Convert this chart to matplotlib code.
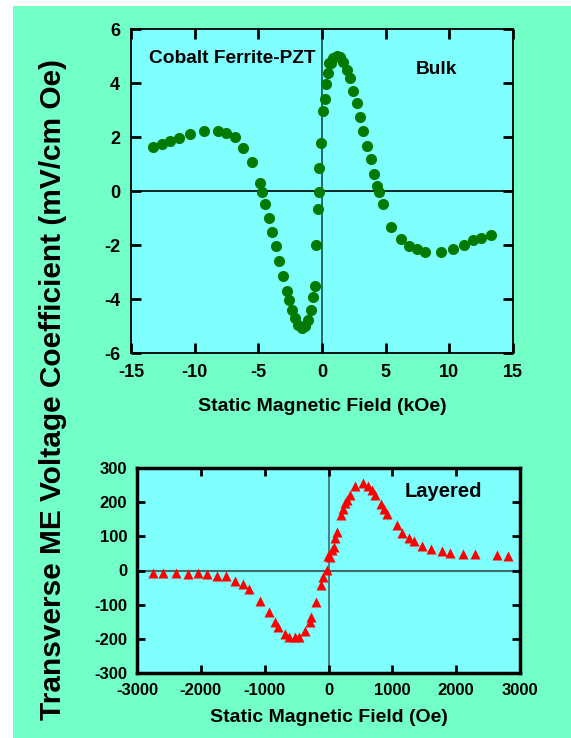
import numpy as np
import matplotlib
matplotlib.use('Agg')
import matplotlib.pyplot as plt
from matplotlib.patches import Rectangle

plt.rcParams['font.family'] = ['Liberation Sans', 'DejaVu Sans']
plt.rcParams['font.weight'] = 'bold'
plt.rcParams['axes.unicode_minus'] = False

# bulk sample, field in kOe, coefficient in mV/cm Oe
bulk_h = [-13.3, -12.57, -11.9, -11.2, -10.4, -9.3, -8.2, -7.54, -6.86, -6.23,
          -5.52, -4.85, -4.69, -4.45, -4.14, -3.9, -3.59, -3.35, -3.04, -2.77,
          -2.59, -2.38, -2.12, -1.86, -1.6, -1.34, -1.08, -0.89, -0.73, -0.55,
          -0.47, -0.29, -0.26, -0.21, -0.05, 0.1, 0.24, 0.31, 0.45, 0.57,
          0.71, 0.89, 1.15, 1.41, 1.68, 1.94, 2.2, 2.46, 2.72, 2.99,
          3.25, 3.51, 3.83, 4.08, 4.34, 4.48, 4.77, 5.45, 6.18, 6.81,
          7.49, 8.12, 9.32, 10.3, 11.15, 11.83, 12.5, 13.25]
bulk_v = [1.63, 1.73, 1.86, 1.97, 2.11, 2.22, 2.22, 2.14, 2.0, 1.58,
          1.06, 0.31, -0.05, -0.49, -1.01, -1.52, -2.05, -2.6, -3.15, -3.69,
          -4.04, -4.41, -4.72, -4.96, -5.09, -5.0, -4.78, -4.41, -3.94, -3.5,
          -2.0, -0.67, -0.05, 0.86, 1.78, 2.97, 3.41, 3.96, 4.36, 4.73,
          4.73, 4.91, 5.0, 4.95, 4.79, 4.5, 4.17, 3.72, 3.25, 2.73,
          2.22, 1.68, 1.17, 0.64, 0.19, -0.05, -0.49, -1.32, -1.78, -2.04,
          -2.16, -2.26, -2.25, -2.16, -2.0, -1.81, -1.73, -1.63]

# layered sample, field in Oe
lay_h = [-2755, -2599, -2390, -2208, -2052, -1906, -1750, -1604, -1469, -1333,
         -1240, -1073, -927, -838, -786, -688, -614, -531, -464, -375,
         -297, -271, -203, -125, -83, -31, -11, 31, 57, 83,
         109, 135, 203, 229, 266, 292, 333, 422, 542, 620,
         682, 734, 828, 875, 917, 1073, 1151, 1255, 1333, 1464,
         1609, 1776, 1896, 2104, 2297, 2636, 2807]
lay_v = [-8, -8, -8, -10, -8, -10, -15, -16, -30, -40,
         -55, -88, -122, -150, -166, -186, -196, -196, -194, -176,
         -150, -135, -93, -42, -18, 1, 42, 40, 60, 70,
         94, 114, 162, 179, 197, 206, 221, 247, 255, 247,
         236, 221, 195, 179, 165, 133, 111, 96, 87, 72,
         63, 58, 52, 48, 48, 45, 42]

bg = '#72FFC8'
panel = '#80FFFF'

fig = plt.figure(figsize=(5.71, 7.38), dpi=100, facecolor='white')
fig.patches.append(Rectangle((13 / 571, 0), 1, 1 - 6 / 738, transform=fig.transFigure,
                             facecolor=bg, edgecolor='none', zorder=-10))

# top panel: bulk
ax1 = fig.add_axes([131 / 571, 385 / 738, 382 / 571, 324 / 738])
ax1.set_facecolor(panel)
ax1.axhline(0, xmin=0.027, xmax=1, color='black', lw=1.2, zorder=1)
ax1.axvline(0, color='#1a4a4a', lw=1.2, zorder=1)
ax1.plot(bulk_h, bulk_v, 'o', color='#007A00', ms=8, mec='none', zorder=3)
ax1.set_xlim(-15, 15)
ax1.set_ylim(-6, 6)
ax1.set_xticks([-15, -10, -5, 0, 5, 10, 15])
ax1.set_yticks([-6, -4, -2, 0, 2, 4, 6])
ax1.tick_params(direction='in', length=7, width=2, top=True, right=True,
                labelsize=13, pad=8)
for s in ax1.spines.values():
    s.set_linewidth(1.3)
ax1.set_xlabel('Static Magnetic Field (kOe)', fontsize=14, fontweight='bold', labelpad=12)
ax1.text(-13.6, 4.75, 'Cobalt Ferrite-PZT', fontsize=13.8, fontweight='bold')
ax1.text(7.4, 4.35, 'Bulk', fontsize=13.8, fontweight='bold')

# bottom panel: layered
ax2 = fig.add_axes([137 / 571, 65 / 738, 383 / 571, 205 / 738])
ax2.set_facecolor(panel)
ax2.axhline(0, xmin=0.01, xmax=1, color='#3d6a6a', lw=1.5, zorder=1)
ax2.axvline(0, color='#3d6a6a', lw=1.2, zorder=1)
ax2.plot(lay_h, lay_v, '^', color='#FF0000', ms=7.5, mec='none', zorder=3)
ax2.set_xlim(-3000, 3000)
ax2.set_ylim(-300, 300)
ax2.set_xticks(np.arange(-3000, 3001, 1000))
ax2.set_yticks(np.arange(-300, 301, 100))
ax2.tick_params(direction='in', length=6, width=2, top=True, right=True,
                labelsize=12, pad=7)
for s in ax2.spines.values():
    s.set_linewidth(2.5)
ax2.set_xlabel('Static Magnetic Field (Oe)', fontsize=14, fontweight='bold', labelpad=8)
ax2.text(1200, 215, 'Layered', fontsize=14.5, fontweight='bold')

fig.text(53 / 571, 1 - 389 / 738, 'Transverse ME Voltage Coefficient (mV/cm Oe)',
         rotation=90, ha='center', va='center', fontsize=21.5, fontweight='bold')

fig.savefig('out.png', dpi=100, facecolor='white')
